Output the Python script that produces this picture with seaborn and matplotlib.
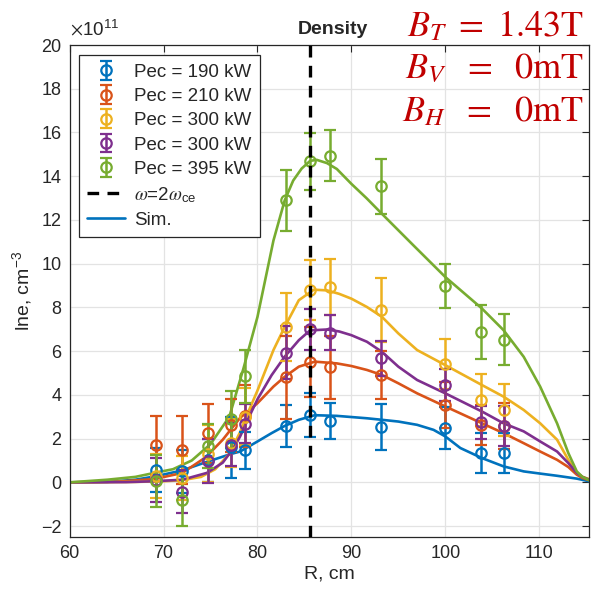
import numpy as np
import pandas as pd
import matplotlib
matplotlib.use("Agg")
import matplotlib.pyplot as plt
from matplotlib.lines import Line2D
import seaborn as sns

# ---------------- data (units of 1e11 cm^-3) ----------------
series_labels = ["Pec = 190 kW", "Pec = 210 kW", "Pec = 300 kW", "Pec = 300 kW", "Pec = 395 kW"]
colors = ["#0072BD", "#D95319", "#EDB120", "#7E2F8E", "#77AC30"]

R_pts = [69.2, 72.0, 74.7, 77.2, 78.7, 83.0, 85.6, 87.7, 93.2, 100.0, 103.8, 106.2]

y_190 = [0.55, 0.5, 1.0, 1.6, 1.46, 2.58, 3.07, 2.81, 2.52, 2.48, 1.34, 1.34]
e_190 = [1.0, 1.0, 1.0, 1.4, 0.85, 0.97, 1.0, 0.82, 1.04, 0.95, 0.92, 0.9]
y_210 = [1.7, 1.47, 2.25, 2.6, 3.03, 4.8, 5.49, 5.26, 4.91, 3.54, 2.63, 2.58]
e_210 = [1.35, 1.55, 1.35, 1.2, 1.4, 1.9, 1.6, 1.45, 1.1, 1.06, 0.9, 1.05]
y_300a = [0.3, 0.2, 1.3, 1.8, 3.0, 7.11, 8.81, 8.94, 7.87, 5.4, 3.77, 3.31]
e_300a = [1.0, 1.0, 1.3, 1.1, 1.3, 1.57, 1.38, 1.27, 1.47, 1.15, 1.18, 1.19]
y_300b = [0.1, -0.42, 0.97, 1.73, 2.69, 5.93, 7.0, 6.85, 5.67, 4.45, 2.74, 2.58]
e_300b = [1.0, 1.0, 1.0, 1.0, 0.87, 1.2, 0.95, 0.8, 0.8, 0.75, 0.76, 0.9]
y_395 = [0.05, -0.8, 1.66, 2.88, 4.85, 12.89, 14.68, 14.94, 13.53, 8.97, 6.88, 6.53]
e_395 = [1.2, 1.2, 1.0, 1.3, 1.2, 1.4, 1.3, 1.17, 1.26, 1.0, 1.22, 1.16]

# simulated profiles
simR_190 = [60, 64, 67, 69.2, 72, 74.7, 77.2, 78.15, 80, 81.5, 82.9, 84.4, 86.1, 88.45, 91.65, 93.25, 95, 97,
            98.75, 100, 101.6, 103.9, 106.2, 108.35, 110.1, 111.9, 114, 115.3]
sim_190 = [0, 0.02, 0.12, 0.28, 0.55, 0.95, 1.3, 1.41, 1.87, 2.25, 2.58, 2.86, 3.07, 3.04, 2.93, 2.86, 2.78, 2.63,
           2.4, 2.1, 1.57, 1.11, 0.73, 0.5, 0.4, 0.3, 0.17, 0.05]
simR_210 = [60, 65, 69, 72, 74.5, 76.3, 77.5, 78.15, 79, 80, 81.7, 82.9, 84.4, 86.1, 88.45, 90, 91.65, 93.25,
            95, 97, 100, 103.9, 106.2, 108.35, 110.1, 111.9, 113.1, 114, 114.6, 115.3]
sim_210 = [0, 0.03, 0.15, 0.43, 1.15, 1.95, 2.6, 2.95, 3.25, 3.62, 4.38, 4.83, 5.29, 5.52, 5.44, 5.32, 5.14, 4.91,
           4.53, 4.07, 3.47, 2.7, 2.25, 1.79, 1.41, 1.03, 0.7, 0.35, 0.2, 0.1]
simR_300a = [60, 67, 70, 72, 74, 75.5, 77, 78.15, 79, 80, 81.7, 82.9, 84.4, 86, 87.4, 88.7, 90, 91.65, 93.25,
             95, 97, 100, 103.9, 106.2, 108.35, 110.1, 111.9, 113.1, 114, 114.6, 115.3]
sim_300a = [0, 0.02, 0.05, 0.1, 0.25, 0.6, 1.3, 2.3, 3.2, 4.2, 6.05, 7.11, 8.33, 8.81, 8.78, 8.62, 8.4, 8.02, 7.57,
            6.81, 6.05, 5.36, 4.45, 3.92, 3.31, 2.7, 1.95, 1.03, 0.43, 0.25, 0.15]
simR_300b = [60, 66, 69, 72, 74.6, 76.3, 77.5, 78.15, 79, 80, 81.5, 82.9, 84.4, 85.6, 87.4, 88.7, 90, 91.65,
             93.25, 95, 97, 100, 103.9, 106.2, 108.35, 110.1, 111.9, 113.1, 114, 114.6, 115.3]
sim_300b = [0, 0.01, 0.05, 0.12, 0.43, 0.9, 1.6, 2.1, 2.9, 3.8, 4.9, 5.75, 6.5, 6.95, 6.99, 6.9, 6.73, 6.43,
            5.97, 5.29, 4.68, 4.07, 3.24, 2.7, 2.33, 1.87, 1.41, 0.88, 0.43, 0.25, 0.12]
simR_395 = [60, 64, 67, 69, 71, 73, 75, 77, 78.5, 80, 81.7, 82.9, 83.8, 84.7, 85.6, 86.3, 87.4, 88.45, 90, 91.6,
            93.25, 96.6, 100, 103.9, 106.2, 108.35, 110.1, 111.9, 113.1, 114.0, 114.6, 115.3]
sim_395 = [0, 0.12, 0.25, 0.43, 0.6, 1.0, 1.75, 3.0, 5.2, 7.57, 11.06, 12.9, 13.8, 14.35, 14.7, 14.75, 14.6, 14.33,
           13.65, 13.0, 12.28, 10.84, 9.39, 7.95, 6.96, 5.74, 4.38, 2.7, 1.34, 0.5, 0.25, 0.1]

R_res = 85.6  # omega = 2 omega_ce

xticks = [60, 70, 80, 90, 100, 110]
yticks = list(range(-2, 21, 2))

# ---------------- style ----------------
sns.set_theme(style="whitegrid")
plt.rcParams["font.family"] = ["Liberation Sans", "DejaVu Sans"]
plt.rcParams["mathtext.fontset"] = "stix"

fig = plt.figure(figsize=(5.91, 5.98), dpi=100)
ax = fig.add_axes([0.1179, 0.1020, 0.8787, 0.8227])
ax.set_facecolor("white")

ys = [y_190, y_210, y_300a, y_300b, y_395]
es = [e_190, e_210, e_300a, e_300b, e_395]
simRs = [simR_190, simR_210, simR_300a, simR_300b, simR_395]
sims = [sim_190, sim_210, sim_300a, sim_300b, sim_395]

frames = []
for i, (rr, vv) in enumerate(zip(simRs, sims)):
    frames.append(pd.DataFrame({"R": rr, "n": vv, "s": f"s{i}"}))
df_sim = pd.concat(frames, ignore_index=True)
sns.lineplot(data=df_sim, x="R", y="n", hue="s", palette=colors, linewidth=1.9,
             legend=False, ax=ax, sort=False, estimator=None)
for ln in ax.get_lines():
    ln.set_solid_joinstyle("round")
    ln.set_solid_capstyle("round")

handles = []
for y, e, c, lab in zip(ys, es, colors, series_labels):
    h = ax.errorbar(R_pts, y, yerr=e, fmt="o", mfc="none", mec=c, ecolor=c, color=c,
                    ms=7.5, mew=1.6, elinewidth=1.8, capsize=4, capthick=1.8, label=lab, zorder=3)
    handles.append(h)

ax.axvline(R_res, color="black", ls=(0, (3.5, 2.5)), lw=2.4, zorder=4)

ax.set_xlim(60, 115.3)
ax.set_ylim(-2.5, 20)
ax.set_xticks(xticks)
ax.set_yticks(yticks)
ax.grid(True, color="#e3e3e3", lw=0.9)
for sp in ax.spines.values():
    sp.set_visible(True)
    sp.set_color("#262626")
    sp.set_linewidth(0.9)
ax.tick_params(direction="in", length=5, width=0.8, color="#262626", labelsize=13,
               top=True, right=True, labelcolor="#262626", pad=6)
ax.set_xlabel("R, cm", fontsize=14, color="#262626", labelpad=2)
ax.set_ylabel("lne, cm$^{\\mathregular{-3}}$", fontsize=14, color="#262626", labelpad=4)

ax.text(0.0, 1.012, r"$\times\mathregular{10^{11}}$", transform=ax.transAxes, fontsize=13.5,
        color="#262626", ha="left", va="bottom")
fig.text(0.563, 0.950, "Density", fontsize=14, fontweight="bold", ha="center", va="center")

red = "#C00000"
fig.text(0.988, 0.955, r"$B_T\ =\ \mathrm{1.43T}$", fontsize=26, color=red, ha="right", va="center")
fig.text(0.988, 0.885, r"$B_V\ \ =\ \ \mathrm{0mT}$", fontsize=26, color=red, ha="right", va="center")
fig.text(0.988, 0.814, r"$B_H\ \ =\ \ \mathrm{0mT}$", fontsize=26, color=red, ha="right", va="center")

handles.append(Line2D([], [], color="black", ls=(0, (3.5, 2.5)), lw=2.4))
handles.append(Line2D([], [], color=colors[0], lw=1.9))
labels = series_labels + [r"$\omega$=2$\omega_{\mathregular{ce}}$", "Sim."]
leg = ax.legend(handles, labels, loc="upper left", bbox_to_anchor=(0.018, 0.979),
                borderaxespad=0, fontsize=13.5, frameon=True, fancybox=False,
                edgecolor="#262626", framealpha=1, handlelength=2.0, handletextpad=0.5,
                labelspacing=0.38, borderpad=0.45)
leg.get_frame().set_linewidth(0.9)

fig.savefig("out.png", dpi=100)
